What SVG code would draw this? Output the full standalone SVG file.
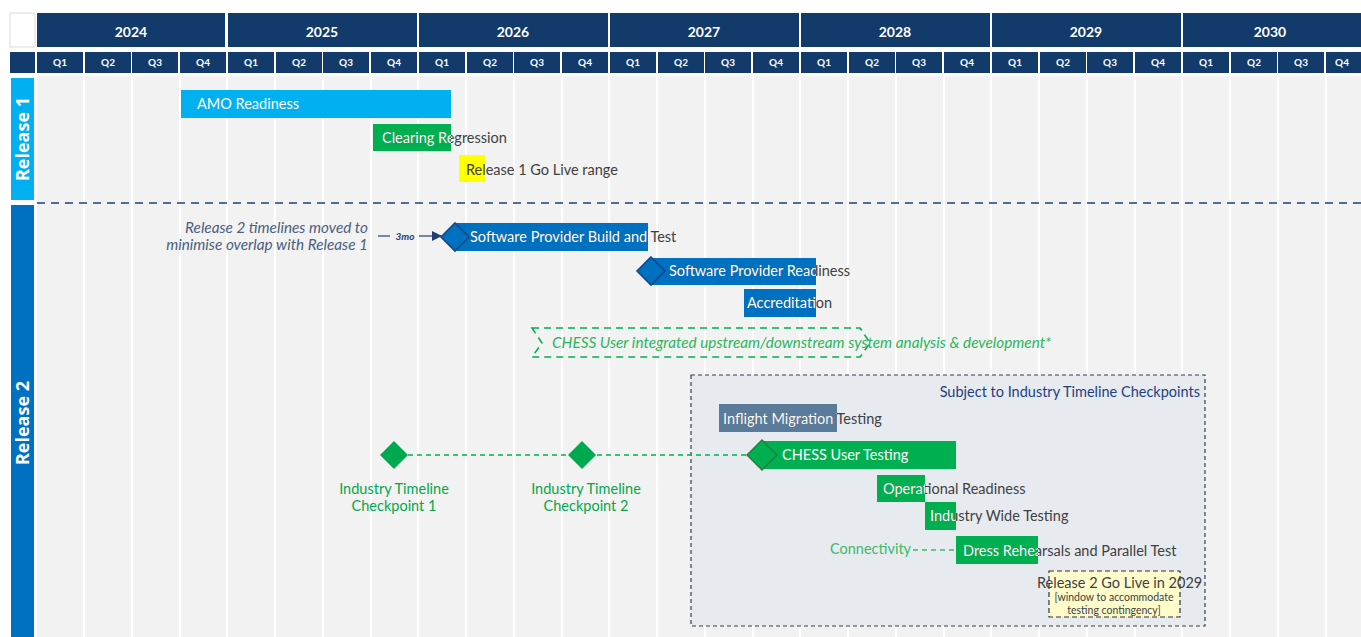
<svg xmlns="http://www.w3.org/2000/svg" width="1361" height="637" viewBox="0 0 1361 637">
<style>
.hdr{fill:#123a6b}
.yr{font-family:Lato,"Liberation Sans",sans-serif;font-weight:bold;font-size:14px;fill:#fff;text-anchor:middle}
.q{font-family:Lato,"Liberation Sans",sans-serif;font-weight:bold;font-size:10px;fill:#fff;text-anchor:middle}
.rel{font-family:"Open Sans","Liberation Sans",sans-serif;font-weight:bold;font-size:18px;fill:#fff;text-anchor:middle}
.t{font-family:Lato,"Liberation Sans",sans-serif;font-size:14.5px}
.it{font-family:Lato,"Liberation Sans",sans-serif;font-size:15.3px;font-style:italic}
.w{fill:#fff}
.d{fill:#404040}
.grid line{stroke:#fff;stroke-width:2}
</style>
<defs>
<clipPath id="cClr"><rect x="373" y="124" width="78" height="27"/></clipPath>
<clipPath id="cSPB"><rect x="455" y="223" width="193" height="28"/></clipPath>
<clipPath id="cSPR"><rect x="651" y="258" width="165" height="27"/></clipPath>
<clipPath id="cAcc"><rect x="744" y="289" width="72" height="28"/></clipPath>
<clipPath id="cInf"><rect x="719" y="404" width="118" height="28"/></clipPath>
<clipPath id="cOps"><rect x="877" y="475" width="48" height="27"/></clipPath>
<clipPath id="cInd"><rect x="925" y="502" width="31" height="28"/></clipPath>
<clipPath id="cDre"><rect x="956" y="536" width="82" height="28"/></clipPath>
<marker id="arr" markerWidth="10" markerHeight="10" refX="9" refY="5" orient="auto" markerUnits="userSpaceOnUse"><path d="M0,0 L10,5 L0,10 Z" fill="#1f3f73"/></marker>
</defs>
<rect width="1361" height="637" fill="#fff"/>
<g id="header">
<rect x="10" y="13" width="25" height="34" fill="#fff" stroke="#dcdcdc"/>
<rect class="hdr" x="37" y="13" width="188" height="34"/>
<rect class="hdr" x="228" y="13" width="189" height="34"/>
<rect class="hdr" x="419" y="13" width="189" height="34"/>
<rect class="hdr" x="610" y="13" width="189" height="34"/>
<rect class="hdr" x="801" y="13" width="189" height="34"/>
<rect class="hdr" x="992" y="13" width="189" height="34"/>
<rect class="hdr" x="1183" y="13" width="178" height="34"/>
<text class="yr" x="131" y="37">2024</text>
<text class="yr" x="322" y="37">2025</text>
<text class="yr" x="513" y="37">2026</text>
<text class="yr" x="704" y="37">2027</text>
<text class="yr" x="895" y="37">2028</text>
<text class="yr" x="1086" y="37">2029</text>
<text class="yr" x="1270" y="37">2030</text>
<rect class="hdr" x="10" y="52" width="25" height="21"/>
<g id="quarters">
<rect class="hdr" x="37" y="52" width="46" height="21"/><rect class="hdr" x="85" y="52" width="46" height="21"/><rect class="hdr" x="132" y="52" width="46" height="21"/><rect class="hdr" x="180" y="52" width="46" height="21"/>
<rect class="hdr" x="228" y="52" width="46" height="21"/><rect class="hdr" x="276" y="52" width="46" height="21"/><rect class="hdr" x="323" y="52" width="46" height="21"/><rect class="hdr" x="371" y="52" width="46" height="21"/>
<rect class="hdr" x="419" y="52" width="46" height="21"/><rect class="hdr" x="467" y="52" width="46" height="21"/><rect class="hdr" x="514" y="52" width="46" height="21"/><rect class="hdr" x="562" y="52" width="46" height="21"/>
<rect class="hdr" x="610" y="52" width="46" height="21"/><rect class="hdr" x="658" y="52" width="46" height="21"/><rect class="hdr" x="705" y="52" width="46" height="21"/><rect class="hdr" x="753" y="52" width="46" height="21"/>
<rect class="hdr" x="801" y="52" width="46" height="21"/><rect class="hdr" x="849" y="52" width="46" height="21"/><rect class="hdr" x="896" y="52" width="46" height="21"/><rect class="hdr" x="944" y="52" width="46" height="21"/>
<rect class="hdr" x="992" y="52" width="46" height="21"/><rect class="hdr" x="1040" y="52" width="46" height="21"/><rect class="hdr" x="1087" y="52" width="46" height="21"/><rect class="hdr" x="1135" y="52" width="46" height="21"/>
<rect class="hdr" x="1183" y="52" width="46" height="21"/><rect class="hdr" x="1231" y="52" width="46" height="21"/><rect class="hdr" x="1278" y="52" width="46" height="21"/><rect class="hdr" x="1326" y="52" width="35" height="21"/>
<text class="q" y="66"><tspan x="60">Q1</tspan><tspan x="108">Q2</tspan><tspan x="155">Q3</tspan><tspan x="203">Q4</tspan><tspan x="251">Q1</tspan><tspan x="299">Q2</tspan><tspan x="346">Q3</tspan><tspan x="394">Q4</tspan><tspan x="442">Q1</tspan><tspan x="490">Q2</tspan><tspan x="537">Q3</tspan><tspan x="585">Q4</tspan><tspan x="633">Q1</tspan><tspan x="681">Q2</tspan><tspan x="728">Q3</tspan><tspan x="776">Q4</tspan><tspan x="824">Q1</tspan><tspan x="872">Q2</tspan><tspan x="919">Q3</tspan><tspan x="967">Q4</tspan><tspan x="1015">Q1</tspan><tspan x="1063">Q2</tspan><tspan x="1110">Q3</tspan><tspan x="1158">Q4</tspan><tspan x="1206">Q1</tspan><tspan x="1254">Q2</tspan><tspan x="1301">Q3</tspan><tspan x="1342">Q4</tspan></text>
</g>
</g>
<g id="grid">
<rect x="37" y="76" width="1324" height="561" fill="#f2f2f2"/>
<g class="grid">
<line x1="84" y1="76" x2="84" y2="637"/><line x1="132" y1="76" x2="132" y2="637"/><line x1="180" y1="76" x2="180" y2="637"/><line x1="227" y1="76" x2="227" y2="637"/>
<line x1="275" y1="76" x2="275" y2="637"/><line x1="323" y1="76" x2="323" y2="637"/><line x1="371" y1="76" x2="371" y2="637"/><line x1="418" y1="76" x2="418" y2="637"/>
<line x1="466" y1="76" x2="466" y2="637"/><line x1="514" y1="76" x2="514" y2="637"/><line x1="562" y1="76" x2="562" y2="637"/><line x1="609" y1="76" x2="609" y2="637"/>
<line x1="657" y1="76" x2="657" y2="637"/><line x1="705" y1="76" x2="705" y2="637"/><line x1="753" y1="76" x2="753" y2="637"/><line x1="800" y1="76" x2="800" y2="637"/>
<line x1="848" y1="76" x2="848" y2="637"/><line x1="896" y1="76" x2="896" y2="637"/><line x1="944" y1="76" x2="944" y2="637"/><line x1="991" y1="76" x2="991" y2="637"/>
<line x1="1039" y1="76" x2="1039" y2="637"/><line x1="1087" y1="76" x2="1087" y2="637"/><line x1="1135" y1="76" x2="1135" y2="637"/><line x1="1182" y1="76" x2="1182" y2="637"/>
<line x1="1230" y1="76" x2="1230" y2="637"/><line x1="1278" y1="76" x2="1278" y2="637"/><line x1="1326" y1="76" x2="1326" y2="637"/>
</g>
</g>
<g id="release1">
<rect x="11" y="78" width="23" height="122" fill="#00b0f0"/>
<text class="rel" transform="translate(29,139) rotate(-90)">Release 1</text>
</g>
<g id="release2">
<rect x="11" y="205" width="23" height="432" fill="#0070c0"/>
<text class="rel" transform="translate(29,423) rotate(-90)">Release 2</text>
</g>
<line id="separator" x1="37" y1="203" x2="1361" y2="203" stroke="#4f6f96" stroke-width="2" stroke-dasharray="8 6"/>
<g id="subject-box">
<rect x="691" y="375" width="514" height="251" fill="#e7ebf0" stroke="#2f3f55" stroke-width="1.2" stroke-dasharray="4 3"/>
<text class="t" x="1200" y="397" font-size="15.5" text-anchor="end" fill="#1f3f7f">Subject to Industry Timeline Checkpoints</text>
</g>
<g id="connectors">
<line x1="408" y1="455" x2="750" y2="455" stroke="#00b050" stroke-width="1.6" stroke-dasharray="5 4"/>
<line x1="913" y1="550" x2="955" y2="550" stroke="#3cb96a" stroke-width="1.6" stroke-dasharray="5 4"/>
<line x1="378" y1="236" x2="390" y2="236" stroke="#1f3f73" stroke-width="1.2"/>
<line x1="419" y1="236" x2="441" y2="236" stroke="#1f3f73" stroke-width="1.2" marker-end="url(#arr)"/>
</g>
<g id="amo-readiness">
<rect x="181" y="90" width="270" height="28" fill="#00b0f0"/>
<text class="t w" x="197" y="109" font-size="14">AMO Readiness</text>
</g>
<g id="clearing-regression">
<rect x="373" y="124" width="78" height="27" fill="#00b050"/>
<text class="t d" x="382" y="143">Clearing Regression</text>
<text class="t w" x="382" y="143" clip-path="url(#cClr)">Clearing Regression</text>
</g>
<g id="release1-golive">
<rect x="459" y="155" width="26" height="27" fill="#ffff00"/>
<text class="t d" x="466" y="175">Release 1 Go Live range</text>
</g>
<g id="note-moved">
<text class="it" fill="#4a5f80" text-anchor="end"><tspan x="368" y="233">Release 2 timelines moved to</tspan><tspan x="368" y="250">minimise overlap with Release 1</tspan></text>
<text x="405" y="240" font-family="Lato,'Liberation Sans',sans-serif" font-size="10" font-weight="bold" font-style="italic" fill="#1f3f73" text-anchor="middle">3mo</text>
</g>
<g id="sp-build-test">
<rect x="455" y="223" width="193" height="28" fill="#0070c0"/>
<path d="M455,223 L469,237 L455,251 L441,237 Z" fill="#0070c0" stroke="#174a86" stroke-width="1.6"/>
<text class="t d" x="470" y="242">Software Provider Build and Test</text>
<text class="t w" x="470" y="242" clip-path="url(#cSPB)">Software Provider Build and Test</text>
</g>
<g id="sp-readiness">
<rect x="651" y="258" width="165" height="27" fill="#0070c0"/>
<path d="M651,257 L665,271 L651,285 L637,271 Z" fill="#0070c0" stroke="#174a86" stroke-width="1.6"/>
<text class="t d" x="669" y="276">Software Provider Readiness</text>
<text class="t w" x="669" y="276" clip-path="url(#cSPR)">Software Provider Readiness</text>
</g>
<g id="accreditation">
<rect x="744" y="289" width="72" height="28" fill="#0070c0"/>
<text class="t d" x="747" y="308">Accreditation</text>
<text class="t w" x="747" y="308" clip-path="url(#cAcc)">Accreditation</text>
</g>
<g id="chess-analysis">
<path d="M532,328 L860,328 L870,343 L860,357 L532,357 L542,343 Z" fill="none" stroke="#00b050" stroke-width="1.6" stroke-dasharray="7 5"/>
<text class="it" x="552" y="348" fill="#2db55d">CHESS User integrated upstream/downstream system analysis &amp; development*</text>
</g>
<g id="inflight-migration">
<rect x="719" y="404" width="118" height="28" fill="#5b7b9b"/>
<text class="t d" x="723" y="424">Inflight Migration Testing</text>
<text class="t w" x="723" y="424" clip-path="url(#cInf)">Inflight Migration Testing</text>
</g>
<g id="checkpoint1">
<path d="M394,441 L408,455 L394,469 L380,455 Z" fill="#00a84f"/>
<text class="t" font-size="15" fill="#00a84f" text-anchor="middle"><tspan x="394" y="494">Industry Timeline</tspan><tspan x="394" y="511">Checkpoint 1</tspan></text>
</g>
<g id="checkpoint2">
<path d="M582,441 L596,455 L582,469 L568,455 Z" fill="#00a84f"/>
<text class="t" font-size="15" fill="#00a84f" text-anchor="middle"><tspan x="586" y="494">Industry Timeline</tspan><tspan x="586" y="511">Checkpoint 2</tspan></text>
</g>
<g id="chess-user-testing">
<rect x="762" y="441" width="194" height="28" fill="#00b050"/>
<path d="M762,440 L777,455 L762,470 L747,455 Z" fill="#00b050" stroke="#2a7a3a" stroke-width="1.4"/>
<text class="t w" x="782" y="460">CHESS User Testing</text>
</g>
<g id="operational-readiness">
<rect x="877" y="475" width="48" height="27" fill="#00b050"/>
<text class="t d" x="883" y="494">Operational Readiness</text>
<text class="t w" x="883" y="494" clip-path="url(#cOps)">Operational Readiness</text>
</g>
<g id="industry-wide-testing">
<rect x="925" y="502" width="31" height="28" fill="#00b050"/>
<text class="t d" x="930" y="521">Industry Wide Testing</text>
<text class="t w" x="930" y="521" clip-path="url(#cInd)">Industry Wide Testing</text>
</g>
<g id="connectivity">
<text class="t" x="830" y="554" font-size="14" fill="#3cb96a">Connectivity</text>
</g>
<g id="dress-rehearsals">
<rect x="956" y="536" width="82" height="28" fill="#00b050"/>
<text class="t d" x="963" y="556">Dress Rehearsals and Parallel Test</text>
<text class="t w" x="963" y="556" clip-path="url(#cDre)">Dress Rehearsals and Parallel Test</text>
</g>
<g id="release2-golive">
<rect x="1049" y="571" width="131" height="46" fill="#fffccc" stroke="#333" stroke-width="1.2" stroke-dasharray="5 3"/>
<text class="t d" x="1037" y="588" font-size="14.2">Release 2 Go Live in 2029</text>
<text font-family="Lato,'Liberation Sans',sans-serif" font-size="10.5" fill="#404040" text-anchor="middle"><tspan x="1114" y="601">[window to accommodate</tspan><tspan x="1114" y="614">testing contingency]</tspan></text>
</g>
</svg>
